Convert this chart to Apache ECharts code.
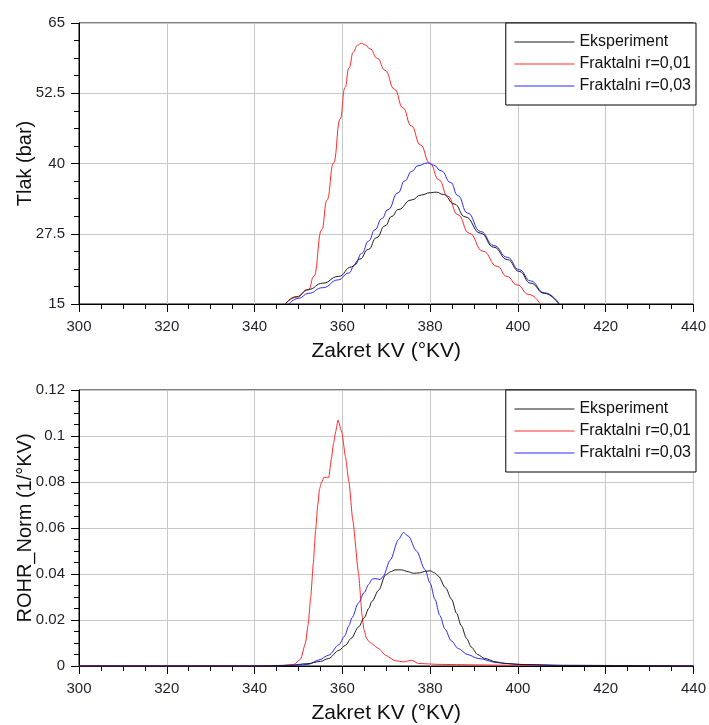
<!DOCTYPE html>
<html>
<head>
<meta charset="utf-8">
<script src="https://cdn.jsdelivr.net/npm/echarts@6/dist/echarts.min.js"></script>
<style>
html,body{margin:0;padding:0;background:#fff;}
#chart{width:709px;height:725px;}
</style>
</head>
<body>
<div id="chart"></div>
<script>
// ---------- Data ----------
const seriesNames = ['Eksperiment', 'Fraktalni r=0,01', 'Fraktalni r=0,03'];
const xTicks = [300, 320, 340, 360, 380, 400, 420, 440];
const pressureTicks = [15, 27.5, 40, 52.5, 65];
const rohrTicks = [0, 0.02, 0.04, 0.06, 0.08, 0.1, 0.12];

// Top chart: pressure (bar) vs crank angle
const pExpX = [347,349.5,352.3,355.5,359.1,362.1,364,365.9,367.8,369.7,371.3,372.7,375.7,378,380,381.4,383,385.5,388,391.5,394.5,397.6,400.3,402.9,406,409.3];
const pExpY = [15,16.3,17.6,18.7,19.9,21.6,23.0,24.7,26.8,28.9,30.6,31.8,33.5,34.4,34.8,34.9,34.5,32.8,30.5,27.6,25.1,22.9,20.8,18.7,16.9,15];

const pR01X = [347,349.5,352.3,353.5,355.3,356.5,358,359.5,360.6,361.5,362.5,363.4,364.3,365.2,366.3,368,369.7,371.9,373.8,375.7,377.8,379.9,382,384,386.3,388.9,392,395.3,397.5,399.8,402.5,405.1];
const pR01Y = [15,16.2,17.5,19.9,28.2,33.5,40.1,47.9,53.5,57.0,59.8,61.0,61.4,61.1,60.4,58.7,56.6,53.2,49.9,46.7,43.3,40.1,37.1,34.2,30.9,27.6,24.4,21.7,19.9,18.4,16.7,15];

const pR03X = [347.8,350,352.3,355.5,359.1,361.4,362.9,364.4,366,367.4,369,370.4,372.7,374.2,375.8,377.2,379.4,380.8,382.5,384.7,386.3,388.5,391.5,394.5,397.6,400.3,402.9,406,409.5];
const pR03Y = [15,16.0,16.9,17.9,19.3,20.5,22.0,24.0,26.2,28.2,30.2,31.8,34.8,36.9,38.6,39.6,40.1,39.7,38.7,36.6,34.3,31.2,27.9,25.4,23.3,21.1,19.1,17.0,15];

// Bottom chart: normalised ROHR vs crank angle
const rExpX = [300,340,348,352,355,356.9,359.2,360.7,362,363.7,365,366,366.7,368.3,369.8,371,372,373.5,375,376.2,377.5,379,380,381,381.9,383.5,384.9,386,387.1,388.3,389.4,390.8,392.4,395,397,401.5,410,440];
const rExpY = [0,0,0.0003,0.001,0.002,0.0033,0.0068,0.009,0.012,0.017,0.021,0.025,0.028,0.033,0.0395,0.041,0.0418,0.0418,0.041,0.0403,0.0405,0.0412,0.0414,0.0405,0.039,0.034,0.029,0.023,0.0175,0.012,0.0082,0.005,0.0033,0.0018,0.0011,0.0006,0.0003,0];

const rR01X = [300,345,349,350.5,351.6,352.2,352.8,353.4,353.9,354.4,354.8,355.3,355.8,356.9,357.5,358,358.5,359,359.9,360.7,361.5,362.4,363.7,364.5,364.9,365.5,366.2,368.3,369.8,372,374,375.8,377.3,382,390,400,440];
const rR01Y = [0,0,0.0007,0.003,0.010,0.018,0.030,0.045,0.059,0.070,0.077,0.080,0.082,0.082,0.090,0.097,0.102,0.107,0.1015,0.091,0.080,0.063,0.040,0.022,0.016,0.012,0.0103,0.0076,0.0047,0.0023,0.0018,0.0025,0.0011,0.0007,0.0005,0.0003,0];

const rR03X = [300,345,350,352.4,354.6,356.9,359.2,360.5,361.5,362.2,363.7,365,366,366.8,367.5,368.6,369.3,370.9,372.8,373.9,375,376.9,378.8,380,381.1,382.2,383.4,384.8,386.4,388.5,390.9,395.5,400,410,440];
const rR03Y = [0,0,0.0003,0.0008,0.0026,0.0047,0.0092,0.013,0.0175,0.021,0.0275,0.032,0.0355,0.0378,0.038,0.0376,0.039,0.046,0.055,0.058,0.0565,0.050,0.042,0.036,0.029,0.022,0.016,0.011,0.0076,0.005,0.0033,0.0014,0.0007,0.0002,0];

const colors = ['#1a1a1a', '#ff2a2a', '#2a2aff'];

// ---------- Helpers ----------
function pairs(xs, ys) { return xs.map((x, i) => [x, ys[i]]); }
const FONT = 'Liberation Sans, Arial, sans-serif';
const TXT = '#1f1f2a';

function xAxisDef(gridIndex) {
  return {
    type: 'value', gridIndex: gridIndex,
    min: xTicks[0], max: xTicks[xTicks.length - 1], interval: xTicks[1] - xTicks[0],
    name: 'Zakret KV (°KV)', nameLocation: 'middle', nameGap: 37, nameMoveOverlap: false,
    nameTextStyle: { fontFamily: FONT, fontSize: 21, color: '#111' },
    axisLine: { show: true, onZero: false, lineStyle: { color: '#000', width: 1 } },
    axisTick: { show: true, inside: false, length: 8, lineStyle: { color: '#000' } },
    minorTick: { show: true, splitNumber: 4, length: 5, lineStyle: { color: '#000' } },
    axisLabel: { fontFamily: FONT, fontSize: 15, color: TXT, margin: 15, showMinLabel: true, showMaxLabel: true },
    splitLine: { show: true, lineStyle: { color: '#c8c8c8', width: 1 } }
  };
}
function yAxisDef(gridIndex, ticks, name, gap) {
  return {
    type: 'value', gridIndex: gridIndex,
    min: ticks[0], max: ticks[ticks.length - 1], interval: ticks[1] - ticks[0],
    name: name, nameLocation: 'middle', nameGap: gap, nameMoveOverlap: false,
    nameTextStyle: { fontFamily: FONT, fontSize: 20, color: '#111' },
    axisLine: { show: true, onZero: false, lineStyle: { color: '#000', width: 1 } },
    axisTick: { show: true, inside: false, length: 8, lineStyle: { color: '#000' } },
    minorTick: { show: true, splitNumber: 4, length: 5, lineStyle: { color: '#000' } },
    axisLabel: { fontFamily: FONT, fontSize: 15, color: TXT, margin: 14, showMinLabel: true, showMaxLabel: true },
    splitLine: { show: true, lineStyle: { color: '#c8c8c8', width: 1 } }
  };
}
function lineSeries(name, idx, data, xi, yi, smooth) {
  return {
    type: 'line', name: name, xAxisIndex: xi, yAxisIndex: yi, data: data,
    symbol: 'none', smooth: smooth, smoothMonotone: 'x', animation: false,
    lineStyle: { color: colors[idx], width: 1 }, itemStyle: { color: colors[idx] }
  };
}
function legendDef(top) {
  return {
    data: seriesNames, orient: 'vertical', right: 13, top: top,
    backgroundColor: '#fff', borderColor: '#000', borderWidth: 1, borderRadius: 0,
    padding: [11, 5, 11, 8], itemWidth: 60, itemHeight: 16, itemGap: 6,
    itemStyle: { opacity: 0, borderWidth: 0 },
    lineStyle: { width: 1.2 },
    textStyle: { fontFamily: FONT, fontSize: 16, color: '#111', lineHeight: 16 },
    selectedMode: false
  };
}

const chart = echarts.init(document.getElementById('chart'), null, { renderer: 'canvas' });
chart.setOption({
  animation: false,
  backgroundColor: '#fff',
  grid: [
    { left: 79, right: 13, top: 23, height: 281, show: true, borderColor: '#000', borderWidth: 1, backgroundColor: 'transparent' },
    { left: 79, right: 13, top: 390, height: 281, show: true, borderColor: '#000', borderWidth: 1, backgroundColor: 'transparent' }
  ],
  xAxis: [xAxisDef(0), xAxisDef(1)],
  yAxis: [
    yAxisDef(0, pressureTicks, 'Tlak (bar)', 44),
    yAxisDef(1, rohrTicks, 'ROHR_Norm (1/°KV)', 44)
  ],
  legend: [legendDef(23), legendDef(390)],
  series: [
    lineSeries(seriesNames[1], 1, pairs(pR01X, pR01Y), 0, 0, 0.5),
    lineSeries(seriesNames[2], 2, pairs(pR03X, pR03Y), 0, 0, 0.5),
    lineSeries(seriesNames[0], 0, pairs(pExpX, pExpY), 0, 0, 0.5),
    lineSeries(seriesNames[1], 1, pairs(rR01X, rR01Y), 1, 1, 0.15),
    lineSeries(seriesNames[2], 2, pairs(rR03X, rR03Y), 1, 1, 0.3),
    lineSeries(seriesNames[0], 0, pairs(rExpX, rExpY), 1, 1, 0.3)
  ]
});
</script>
</body>
</html>
